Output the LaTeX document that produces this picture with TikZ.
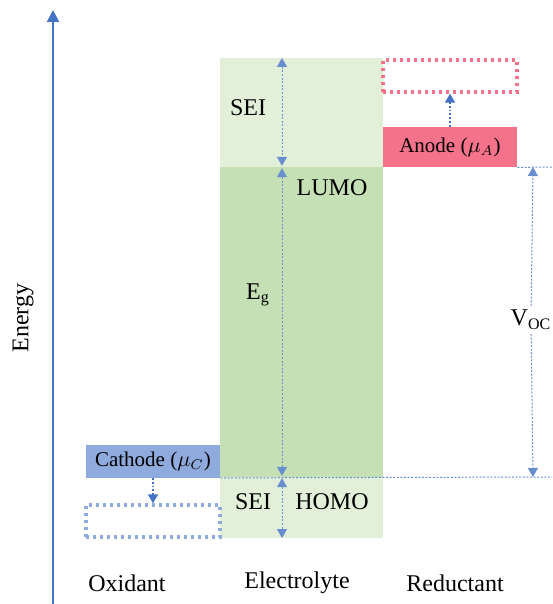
\documentclass[tikz,border=0pt]{standalone}
\usepackage{fontspec}
\setmainfont{Liberation Serif}
\usetikzlibrary{arrows.meta}

\definecolor{seigreen}{HTML}{E2F0D9}
\definecolor{gapgreen}{HTML}{C5E0B4}
\definecolor{anodepink}{HTML}{F5728B}
\definecolor{cathodeblue}{HTML}{8FAADC}
\definecolor{axisblue}{HTML}{4472C4}

\tikzset{
  level/.style={minimum width=67pt, inner sep=0pt, font=\fontsize{10.5}{12}\selectfont},
  oldlevel/.style={level, line width=1.7pt, dash pattern=on 1.5pt off 2pt},
  shiftarrow/.style={axisblue, line width=0.9pt, densely dotted, -{Triangle[width=5pt,length=4.5pt]}},
  spanarrow/.style={axisblue!80, line width=0.5pt, dash pattern=on 1pt off 0.8pt,
    {Triangle[width=5pt,length=4.5pt]}-{Triangle[width=5pt,length=4.5pt]}},
  guide/.style={axisblue!80, line width=0.5pt, dash pattern=on 1pt off 0.8pt}
}

\begin{document}
\begin{tikzpicture}[x=0.5pt, y=-0.5pt, every node/.style={font=\fontsize{12}{14}\selectfont}]
  \useasboundingbox (0,0) rectangle (552,604);
  % Energy axis
  \draw[axisblue, line width=1pt, -{Triangle[width=6pt,length=6pt]}] (53,604) -- (53,10);
  \node[rotate=90] (energy) at (23,318) {Energy};
  % Electrolyte window
  \fill[seigreen] (220,58) rectangle (383,167);
  \fill[gapgreen] (220,167) rectangle (383,477);
  \fill[seigreen] (220,477) rectangle (383,538);
  % Electrodes
  \node[level, fill=anodepink, minimum height=20pt] (anode) at (450,147) {Anode ($\mu_A$)};
  \node[oldlevel, draw=anodepink, minimum height=16pt] (anodeold) at (450,76) {};
  \node[level, fill=cathodeblue, minimum height=16.5pt] (cathode) at (153,461) {Cathode ($\mu_C$)};
  \node[oldlevel, draw=cathodeblue, minimum height=16pt] (cathodeold) at (153,521) {};
  \draw[shiftarrow] (anode.north) -- (anodeold.south);
  \draw[shiftarrow] (cathode.south) -- (cathodeold.north);
  % Level lines
  \coordinate (lumoedge) at (552,167);
  \coordinate (homoedge) at (552,477);
  \draw[guide] (anode.south east) -- (lumoedge);
  \draw[guide] (cathode.south east) -- (homoedge);
  % Window arrows
  \coordinate (seitop) at (282,58);
  \coordinate (lumo) at (282,167);
  \coordinate (homo) at (282,477);
  \coordinate (seibot) at (282,538);
  \draw[spanarrow] (seitop) -- ([yshift=0.6pt]lumo);
  \draw[spanarrow] ([yshift=-0.6pt]lumo) -- ([yshift=0.6pt]homo);
  \draw[spanarrow] ([yshift=-0.6pt]homo) -- (seibot);
  \node (seiup) at (248,108) {SEI};
  \node (lumolabel) at (332,188) {LUMO};
  \node (eg) at (258,295) {E\textsubscript{g}};
  \node (seidown) at (253,502) {SEI};
  \node (homolabel) at (332,502) {HOMO};
  % Open-circuit voltage
  \coordinate (vtop) at (533,167);
  \coordinate (vbot) at (533,477);
  \node[inner sep=2pt] (voc) at (531,320) {V\textsubscript{OC}};
  \draw[guide, -{Triangle[width=5pt,length=4.5pt]}] (voc) -- (vtop);
  \draw[guide, -{Triangle[width=5pt,length=4.5pt]}] (voc) -- (vbot);
  % Columns
  \node (oxidant) at (127,583) {Oxidant};
  \node (electrolyte) at (297,583) {Electrolyte};
  \node (reductant) at (455,583) {Reductant};
\end{tikzpicture}
\end{document}
